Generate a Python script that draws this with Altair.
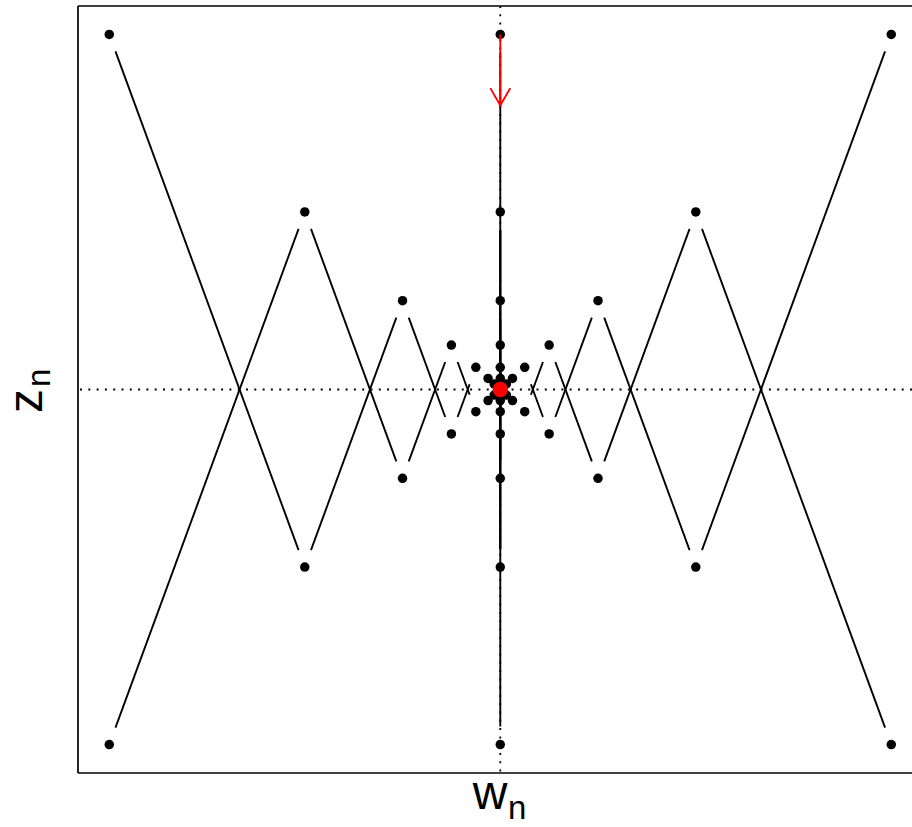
import altair as alt
import pandas as pd

# Sequence terms: magnitudes of w_n and alternating z_n
w_mag = [1.0, 0.5, 0.25, 0.125, 0.0625, 0.03125, 0.015625, 0.0078125]
z_alt = [1.0, -0.5, 0.25, -0.125, 0.0625, -0.03125, 0.015625, -0.0078125]

# Limit point and the arrow showing the direction of the central sequence
limit_w, limit_z = [0.0], [0.0]
arrow_w, arrow_z0, arrow_z1 = [0.0], [1.0], [0.8]

# Plot-area geometry (pixels) and axis limits
W, H = 834, 767
X_DOM = [-1.08, 1.053]
Y_DOM = [-1.08, 1.08]
GAP = 18  # gap between a line segment and its points (type "b" style)
LINE_W = 1.9

# Six sequences: (sign of w, sign of z)
signs = [(-1, 1), (-1, -1), (1, 1), (1, -1), (0, 1), (0, -1)]

pts = []
segs = []
sx = W / (X_DOM[1] - X_DOM[0])
sy = H / (Y_DOM[1] - Y_DOM[0])
for k, (sw, sz) in enumerate(signs):
    ws = [sw * v for v in w_mag]
    zs = [sz * v for v in z_alt]
    for w, z in zip(ws, zs):
        pts.append({"w": w, "z": z, "seq": k})
    for i in range(len(ws) - 1):
        a_w, a_z, b_w, b_z = ws[i], zs[i], ws[i + 1], zs[i + 1]
        length = ((b_w - a_w) * sx) ** 2 + ((b_z - a_z) * sy) ** 2
        length = length ** 0.5
        if length <= 2 * GAP:
            continue
        t = GAP / length
        segs.append({
            "w": a_w + t * (b_w - a_w), "z": a_z + t * (b_z - a_z),
            "w2": b_w - t * (b_w - a_w), "z2": b_z - t * (b_z - a_z),
        })

pts_df = pd.DataFrame(pts)
segs_df = pd.DataFrame(segs)

xs = alt.Scale(domain=X_DOM, nice=False, zero=False)
ys = alt.Scale(domain=Y_DOM, nice=False, zero=False)

lines = alt.Chart(segs_df).mark_rule(color="black", strokeWidth=LINE_W).encode(
    x=alt.X("w:Q", scale=xs, axis=None),
    y=alt.Y("z:Q", scale=ys, axis=None),
    x2="w2:Q",
    y2="z2:Q",
)

points = alt.Chart(pts_df).mark_circle(color="black", size=90, opacity=1).encode(
    x=alt.X("w:Q", scale=xs, axis=None),
    y=alt.Y("z:Q", scale=ys, axis=None),
)

dash = [2, 6.3]
vline = alt.Chart(pd.DataFrame({"w": limit_w})).mark_rule(
    color="black", strokeWidth=1.8, strokeDash=dash
).encode(x=alt.X("w:Q", scale=xs, axis=None))
hline = alt.Chart(pd.DataFrame({"z": limit_z})).mark_rule(
    color="black", strokeWidth=1.8, strokeDash=dash
).encode(y=alt.Y("z:Q", scale=ys, axis=None))

arrow_df = pd.DataFrame({"w": arrow_w, "z": arrow_z0, "z2": arrow_z1})
arrow_shaft = alt.Chart(arrow_df).mark_rule(color="red", strokeWidth=LINE_W).encode(
    x=alt.X("w:Q", scale=xs, axis=None),
    y=alt.Y("z:Q", scale=ys, axis=None),
    y2="z2:Q",
)
arrow_head = alt.Chart(arrow_df).mark_point(
    shape="M-0.577,-1L0,0L0.577,-1",
    size=1197,
    filled=False,
    stroke="red",
    strokeWidth=LINE_W,
    opacity=1,
).encode(
    x=alt.X("w:Q", scale=xs, axis=None),
    y=alt.Y("z2:Q", scale=ys, axis=None),
)

limit_pt = alt.Chart(pd.DataFrame({"w": limit_w, "z": limit_z})).mark_circle(
    color="red", size=235, opacity=1
).encode(
    x=alt.X("w:Q", scale=xs, axis=None),
    y=alt.Y("z:Q", scale=ys, axis=None),
)

# Frame: left, top and bottom edges of the plot box
frame_style = dict(color="black", strokeWidth=1.7)
one = pd.DataFrame({"a": [0]})
frame_top = alt.Chart(one).mark_rule(**frame_style).encode(
    x=alt.value(0), x2=alt.value(W), y=alt.value(0)
)
frame_bottom = alt.Chart(one).mark_rule(**frame_style).encode(
    x=alt.value(0), x2=alt.value(W), y=alt.value(H)
)
frame_left = alt.Chart(one).mark_rule(**frame_style).encode(
    x=alt.value(0), y=alt.value(0), y2=alt.value(H)
)

# Axis titles with subscripts
FONT = "Liberation Sans"
BIG, SMALL = 48, 33
x_main = alt.Chart(one).mark_text(
    text="w", font=FONT, fontSize=BIG, align="center", baseline="alphabetic"
).encode(x=alt.value(412), y=alt.value(803))
x_sub = alt.Chart(one).mark_text(
    text="n", font=FONT, fontSize=SMALL, align="left", baseline="alphabetic"
).encode(x=alt.value(430), y=alt.value(813))
y_main = alt.Chart(one).mark_text(
    text="z", font=FONT, fontSize=BIG, align="center", baseline="alphabetic", angle=270
).encode(x=alt.value(-36), y=alt.value(395))
y_sub = alt.Chart(one).mark_text(
    text="n", font=FONT, fontSize=SMALL, align="left", baseline="alphabetic", angle=270
).encode(x=alt.value(-28), y=alt.value(381))

chart = alt.layer(
    lines, vline, hline, points, arrow_shaft, arrow_head, limit_pt,
    frame_top, frame_bottom, frame_left,
    x_main, x_sub, y_main, y_sub,
).properties(
    width=W,
    height=H,
    autosize="none",
    padding={"left": 78, "top": 6, "right": 0, "bottom": 54},
    background="white",
).configure_view(stroke=None)

chart.save("out.html", embed_options={"renderer": "svg", "actions": False})
